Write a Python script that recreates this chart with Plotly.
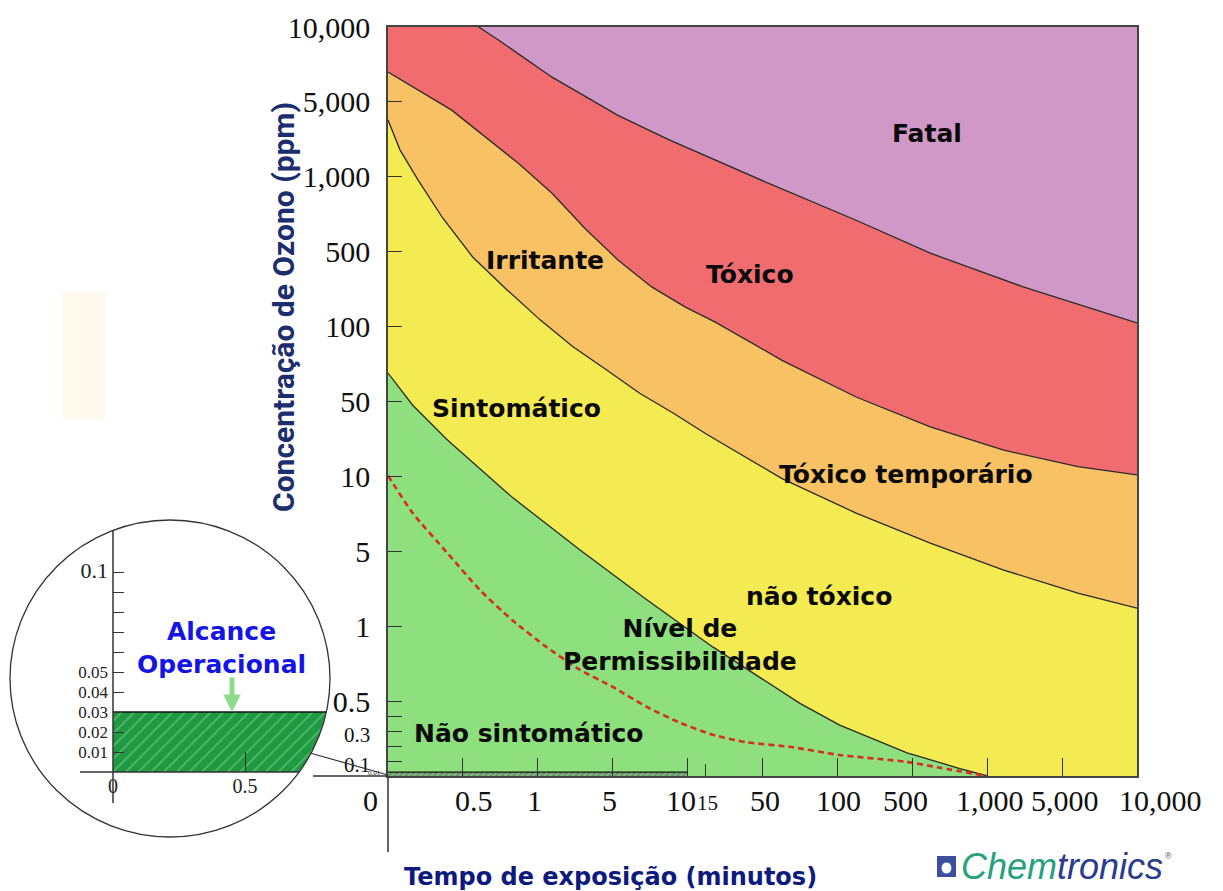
import numpy as np
import plotly.graph_objects as go

W, H = 1223, 891

# ---------------- data (positions on the chart's tick-slot scale) ----------------
x_tick_pos = [0, 1, 2, 3, 4, 4.24, 5, 6, 7, 8, 9, 10]
x_tick_labels = ["0", "0.5", "1", "5", "10", "15", "50", "100", "500", "1,000", "5,000", "10,000"]
x_label_pos = [-0.24, 1.15, 1.96, 2.96, 3.91, 4.27, 5.03, 6.01, 6.91, 8.04, 9.04, 10.31]

y_tick_pos = [10, 9, 8, 7, 6, 5, 4, 3, 2, 1, 0.8, 0.6, 0.4, 0.19]
y_tick_labels = ["10,000", "5,000", "1,000", "500", "100", "50", "10", "5", "1", "0.5", "", "0.3", "", "0.1"]

# boundary curves
fatal_x = [1.21, 1.47, 2.19, 3.07, 3.74, 4.37, 5.02, 6.25, 7.24, 8.48, 10.0]
fatal_y = [10.0, 9.83, 9.33, 8.82, 8.50, 8.22, 7.94, 7.42, 6.98, 6.53, 6.05]
toxic_x = [0, 0.85, 1.74, 2.19, 2.63, 3.07, 3.52, 3.97, 4.37, 5.26, 6.25, 7.24, 8.22, 9.21, 10.0]
toxic_y = [9.40, 8.89, 8.18, 7.78, 7.31, 6.89, 6.53, 6.26, 6.06, 5.55, 5.06, 4.66, 4.35, 4.13, 4.02]
irrit_x = [0, 0.16, 0.40, 0.73, 1.13, 1.59, 2.03, 2.47, 2.92, 3.36, 3.80, 4.26, 5.26, 6.25, 7.24, 8.22, 9.21, 10.0]
irrit_y = [8.76, 8.36, 7.96, 7.45, 6.93, 6.49, 6.09, 5.73, 5.42, 5.11, 4.85, 4.56, 3.97, 3.51, 3.11, 2.75, 2.44, 2.24]
sympt_x = [0, 0.33, 0.79, 1.66, 2.56, 3.46, 4.34, 4.97, 5.50, 6.03, 6.93, 7.60, 8.0]
sympt_y = [5.38, 4.95, 4.49, 3.72, 3.02, 2.35, 1.72, 1.31, 0.97, 0.68, 0.31, 0.11, 0.0]
perm_x = [0, 0.33, 0.79, 1.23, 1.66, 2.12, 2.56, 3.00, 3.46, 3.90, 4.34, 4.79, 5.36, 6.03, 6.92, 7.37, 8.0]
perm_y = [4.01, 3.51, 2.98, 2.48, 2.08, 1.72, 1.42, 1.19, 0.92, 0.71, 0.55, 0.45, 0.39, 0.28, 0.19, 0.11, 0.0]

# operational range strip on the main chart (0 - 0.03 ppm, up to 10 min)
op_main_x = [0, 4.0]
op_main_top = 0.053

region_names = ["Fatal", "Irritante", "Tóxico", "Sintomático", "Tóxico temporário",
                "não tóxico", "Nível de<br>Permissibilidade", "Não sintomático"]
region_x = [7.20, 2.10, 4.83, 1.72, 6.92, 5.75, 3.90, 1.87]
region_y = [8.58, 6.88, 6.70, 4.91, 4.03, 2.39, 1.75, 0.57]

# inset (linear zoom of the bottom-left corner)
inset_y_ticks = [0.01, 0.02, 0.03, 0.04, 0.05, 0.06, 0.07, 0.08, 0.09, 0.1]
inset_y_labels = ["0.01", "0.02", "0.03", "0.04", "0.05", "", "", "", "", "0.1"]
inset_x_ticks = [0, 0.5]
inset_x_labels = ["0", "0.5"]
op_range = [0.0, 0.03]

# ---------------- helpers (screen pixel -> paper) ----------------
def pxx(x):
    return x / W


def pxy(y):
    return 1 - y / H


X0, PPU = 388, 74.9   # main plot left edge, pixels per slot


def slot_to_px(v):
    return X0 + v * PPU


C_PURPLE = "#CF98C7"
C_RED = "#F06C6F"
C_ORANGE = "#F8C164"
C_YELLOW = "#F4EB52"
C_GREEN = "#8EE07F"
C_EDGE = "#2a2a2a"

fig = go.Figure()


def region(xs, ys, color):
    fig.add_trace(go.Scatter(x=xs, y=ys, fill="toself", fillcolor=color, mode="lines",
                             line=dict(width=0), hoverinfo="skip", showlegend=False,
                             xaxis="x", yaxis="y"))


region(fatal_x + [10], fatal_y + [10], C_PURPLE)
region(fatal_x + toxic_x[::-1] + [0], fatal_y + toxic_y[::-1] + [10], C_RED)
region(toxic_x + irrit_x[::-1], toxic_y + irrit_y[::-1], C_ORANGE)
region(irrit_x + [10] + sympt_x[::-1], irrit_y + [0] + sympt_y[::-1], C_YELLOW)
region(sympt_x + [0], sympt_y + [0], C_GREEN)

for xs, ys in [(fatal_x, fatal_y), (toxic_x, toxic_y), (irrit_x, irrit_y), (sympt_x, sympt_y)]:
    fig.add_trace(go.Scatter(x=xs, y=ys, mode="lines",
                             line=dict(color=C_EDGE, width=1.3),
                             hoverinfo="skip", showlegend=False))

fig.add_trace(go.Scatter(x=perm_x, y=perm_y, mode="lines",
                         line=dict(color="#D42E24", width=2.6, dash="6px,4px", shape="spline", smoothing=0.6),
                         hoverinfo="skip", showlegend=False))

# operational strip on main chart
fig.add_trace(go.Scatter(x=[op_main_x[0], op_main_x[1], op_main_x[1], op_main_x[0]],
                         y=[0, 0, op_main_top, op_main_top], fill="toself",
                         fillcolor="#6a9a6a", mode="lines", line=dict(width=0),
                         fillpattern=dict(shape="/", bgcolor="#6a9a6a", fgcolor="#c8e0c0", size=4, solidity=0.3),
                         hoverinfo="skip", showlegend=False))
fig.add_trace(go.Scatter(x=op_main_x, y=[op_main_top, op_main_top], mode="lines",
                         line=dict(color="#111", width=1.3), hoverinfo="skip", showlegend=False))

# ---------------- inset ----------------
CX, CY, RX, RY = 170, 678.5, 160, 158.5   # circle (screen px)
IX0, IY0 = 113, 772                       # inset origin (screen px)
SX, SY = 264.0, 2000.0                    # pixels per unit in the inset
cxu, cyu = (CX - IX0) / SX, (IY0 - CY) / SY
rxu, ryu = RX / SX, RY / SY
yy = np.linspace(op_range[0], op_range[1], 20)
xe = cxu + rxu * np.sqrt(1 - ((yy - cyu) / ryu) ** 2)
band_x = [0.0] + list(xe) + [0.0]
band_y = [op_range[0]] + list(yy) + [op_range[1]]
fig.add_trace(go.Scatter(x=band_x, y=band_y, fill="toself", mode="lines",
                         fillcolor="#23A046", line=dict(width=0),
                         fillpattern=dict(shape="/", bgcolor="#1f9a42", fgcolor="#8fd89a", size=9, solidity=0.18),
                         hoverinfo="skip", showlegend=False, xaxis="x2", yaxis="y2"))
fig.add_trace(go.Scatter(x=[0, xe[-1]], y=[op_range[1], op_range[1]], mode="lines",
                         line=dict(color="#111", width=1.4), hoverinfo="skip", showlegend=False,
                         xaxis="x2", yaxis="y2"))

serif = "Liberation Serif"
sans_b = "DejaVu Sans"

big_y_text = []
for t in y_tick_labels:
    if t in ("0.3", "0.1"):
        big_y_text.append(f"<span style='font-size:21px'>{t}</span>")
    else:
        big_y_text.append(t)

inset_y_text = []
for t in inset_y_labels:
    if t == "0.1":
        inset_y_text.append(f"<span style='font-size:22px'>{t}</span>")
    else:
        inset_y_text.append(t)

fig.update_layout(
    width=W, height=H,
    margin=dict(l=0, r=0, t=0, b=0, pad=0),
    paper_bgcolor="white", plot_bgcolor="white",
    showlegend=False,
    xaxis=dict(domain=[pxx(388), pxx(1137)], range=[0, 10], showgrid=False, zeroline=False,
               showline=True, mirror=True, linecolor="#444", linewidth=1.5,
               tickmode="array", tickvals=[1, 2, 3, 4, 5, 6, 7, 8, 9],
               ticks="inside", ticklen=18, tickwidth=1.2, tickcolor="#333",
               showticklabels=False, automargin=False,
               minor=dict(tickvals=[4.24], ticks="inside", ticklen=12, tickwidth=1.2, tickcolor="#333")),
    yaxis=dict(domain=[pxy(776), pxy(27)], range=[0, 10], showgrid=False, zeroline=False,
               showline=True, mirror=True, linecolor="#444", linewidth=1.5,
               tickmode="array", tickvals=y_tick_pos, ticktext=big_y_text,
               ticks="inside", ticklen=14, tickwidth=1.2, tickcolor="#333",
               tickfont=dict(family=serif, size=30, color="#111"),
               ticklabelstandoff=10, automargin=False),
    xaxis2=dict(domain=[pxx(IX0), pxx(330)], range=[0, (330 - IX0) / SX], anchor="y2",
                showgrid=False, zeroline=False, showline=False,
                tickmode="array", tickvals=inset_x_ticks, ticktext=inset_x_labels,
                ticks="inside", ticklen=20, tickwidth=1.2, tickcolor="#333",
                tickfont=dict(family=serif, size=20, color="#222"), automargin=False),
    yaxis2=dict(domain=[pxy(IY0), pxy(530)], range=[0, (IY0 - 530) / SY], anchor="x2",
                showgrid=False, zeroline=False, showline=False,
                tickmode="array", tickvals=inset_y_ticks, ticktext=inset_y_text,
                ticks="inside", ticklen=11, tickwidth=1.2, tickcolor="#333",
                tickfont=dict(family=serif, size=17, color="#222"),
                ticklabelstandoff=4, automargin=False),
)

shapes = []


def pline(x0, y0, x1, y1, w=1.5, c="#333"):
    shapes.append(dict(type="line", xref="paper", yref="paper", x0=pxx(x0), y0=pxy(y0),
                       x1=pxx(x1), y1=pxy(y1), line=dict(color=c, width=w)))


pline(388, 776, 388, 852)
pline(313, 776, 388, 776)
pline(310, 753, 388, 775, w=1.2)
pline(IX0, 530, IX0, 803)
pline(80, IY0, 299, IY0)
shapes.append(dict(type="circle", xref="paper", yref="paper",
                   x0=pxx(CX - RX), x1=pxx(CX + RX), y0=pxy(CY + RY), y1=pxy(CY - RY),
                   line=dict(color="#333", width=1.3)))
shapes.append(dict(type="rect", xref="paper", yref="paper", x0=pxx(62), x1=pxx(106),
                   y0=pxy(419), y1=pxy(292), fillcolor="#FFF8EC", line=dict(width=0), layer="below"))
# logo icon
shapes.append(dict(type="rect", xref="paper", yref="paper", x0=pxx(937), x1=pxx(956),
                   y0=pxy(877), y1=pxy(856), fillcolor="#3B4F9E", line=dict(width=0)))
shapes.append(dict(type="circle", xref="paper", yref="paper", x0=pxx(941), x1=pxx(952),
                   y0=pxy(874), y1=pxy(862), fillcolor="white", line=dict(color="#3B4F9E", width=1)))
fig.update_layout(shapes=shapes)

ann = []


def txt(x, y, text, font, **kw):
    d = dict(x=pxx(x), y=pxy(y), xref="paper", yref="paper", text=text, showarrow=False,
             xanchor="center", yanchor="middle", font=font)
    d.update(kw)
    ann.append(d)


# x tick labels
for pos, lab in zip(x_label_pos, x_tick_labels):
    small = lab == "15"
    txt(slot_to_px(pos), 803 if small else 800, lab,
        dict(family=serif, size=21 if small else 30, color="#111"))
txt(374, 773, "0.01", dict(family=serif, size=7, color="#333"))

# region labels
for name, rx, ry in zip(region_names, region_x, region_y):
    ann.append(dict(x=rx, y=ry, xref="x", yref="y", text=f"<b>{name}</b>", showarrow=False,
                    xanchor="center", yanchor="middle",
                    font=dict(family=sans_b, size=25, color="#0a0a0a")))

# axis titles
txt(283, 307, "<b>Concentração de Ozono (ppm)</b>",
    dict(family="Liberation Sans Narrow, Roboto", size=30, color="#1C2E6E"), textangle=-90)
txt(610, 877, "<b>Tempo de exposição (minutos)</b>",
    dict(family=sans_b, size=24, color="#0E1A7E"))

# inset text and arrow
txt(221, 648, "<b>Alcance<br>Operacional</b>", dict(family=sans_b, size=25, color="#1414E6"))
ann.append(dict(x=(232 - IX0) / SX, y=op_range[1], xref="x2", yref="y2", ax=0, ay=-36,
                text="", showarrow=True, arrowhead=2, arrowsize=0.7, arrowwidth=5,
                arrowcolor="#8ED98A"))

# logo text
txt(959, 866, "<i><span style='color:#26A07E'>Chem</span><span style='color:#2C3B8E'>tronics</span></i>",
    dict(family="Liberation Sans", size=36), xanchor="left")
txt(1168, 856, "®", dict(family="Liberation Sans", size=9, color="#555"))

fig.update_layout(annotations=ann)

fig.write_html("out.html", config={"displayModeBar": False},
               post_script="document.body.style.margin='0';document.body.style.overflow='hidden';")
